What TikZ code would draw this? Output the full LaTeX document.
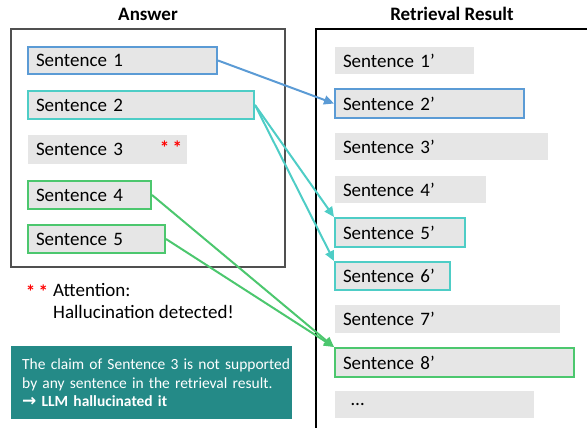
\documentclass[tikz,border=0pt]{standalone}
\usepackage{fontspec}
\setmainfont{Carlito}
\newfontfamily\dejavu{DejaVu Sans}
\usetikzlibrary{arrows.meta}
\definecolor{boxgray}{HTML}{E6E6E6}
\definecolor{cblue}{HTML}{5B9BD5}
\definecolor{cteal}{HTML}{4ECDC6}
\definecolor{cgreen}{HTML}{4CC76E}
\definecolor{cdark}{HTML}{248A87}
\definecolor{frame}{HTML}{505050}
\tikzset{
  sbox/.style={fill=boxgray, anchor=north west, inner xsep=8pt, inner ysep=0pt,
    align=left, font=\fontsize{19}{22}\selectfont, line width=2pt},
  title/.style={font=\fontsize{19}{22}\selectfont\bfseries},
  link/.style={line width=2pt, -{Triangle[length=10pt,width=9pt]}},
}
\begin{document}
\begin{tikzpicture}[x=1pt,y=-1pt]
\useasboundingbox (0,0) rectangle (587,428);
% titles
\node[title] (tA) at (148,14) {Answer};
\node[title] (tR) at (452,14) {Retrieval Result};
% frames
\draw[frame, line width=1.3pt] (11,29) rectangle (285,267);
\draw[black, line width=1.3pt] (316,428) -- (316,29) -- (587,29);
% answer sentences
\node[sbox, draw=cblue, text width=173pt, minimum height=27pt] (s1) at (27,46) {Sentence 1};
\node[sbox, draw=cteal, text width=210pt, minimum height=28pt] (s2) at (27,90) {Sentence 2};
\node[sbox, text width=143pt, minimum height=29pt] (s3) at (27,134) {Sentence 3};
\node[text=red, inner sep=0pt, font=\fontsize{19}{22}\selectfont\bfseries] (st3) at (171,148) {*\,*};
\node[sbox, draw=cgreen, text width=107pt, minimum height=28pt] (s4) at (27,180) {Sentence 4};
\node[sbox, draw=cgreen, text width=121pt, minimum height=28pt] (s5) at (27,224) {Sentence 5};
% retrieval sentences
\node[sbox, text width=123pt, minimum height=27pt] (r1) at (334,46) {Sentence 1’};
\node[sbox, draw=cblue, text width=173pt, minimum height=29pt] (r2) at (334,88) {Sentence 2’};
\node[sbox, text width=197pt, minimum height=27pt] (r3) at (334,132) {Sentence 3’};
\node[sbox, text width=135pt, minimum height=27pt] (r4) at (334,175) {Sentence 4’};
\node[sbox, draw=cteal, text width=114pt, minimum height=29pt] (r5) at (334,217) {Sentence 5’};
\node[sbox, draw=cteal, text width=99pt, minimum height=28pt] (r6) at (334,261) {Sentence 6’};
\node[sbox, text width=209pt, minimum height=28pt] (r7) at (334,304) {Sentence 7’};
\node[sbox, draw=cgreen, text width=223pt, minimum height=29pt] (r8) at (334,347) {Sentence 8’};
\node[sbox, text width=183pt, minimum height=27pt] (r9) at (334,390) {\hspace*{8pt}…};
% connectors
\draw[link, cblue] (s1.east) -- (r2.west);
\draw[link, cteal] (s2.east) -- (r5.north west);
\draw[link, cteal] (s2.east) -- (r6.north west);
\draw[link, cgreen] (s4.east) -- (r8.north west);
\draw[link, cgreen] (s5.east) -- (r8.north west);
% attention note
\node[text=red, inner sep=0pt, font=\fontsize{19}{22}\selectfont\bfseries] (sta) at (37,292) {*\,*};
\node[anchor=north west, inner sep=0pt, align=left, font=\fontsize{19}{22}\selectfont] (att) at (53,283) {Attention:\\Hallucination detected!};
% conclusion box
\node[fill=cdark, anchor=north west, minimum width=281pt, minimum height=73pt, inner xsep=11pt, text width=259pt,
  align=left, text=white, font=\fontsize{15.5}{18.5}\selectfont] (concl) at (11,346)
  {\mbox{The claim of Sentence 3 is not supported}\\\mbox{by any sentence in the retrieval result.}\\\textbf{{\dejavu\fontsize{17}{18.5}\selectfont →} LLM hallucinated it}};
\end{tikzpicture}
\end{document}
